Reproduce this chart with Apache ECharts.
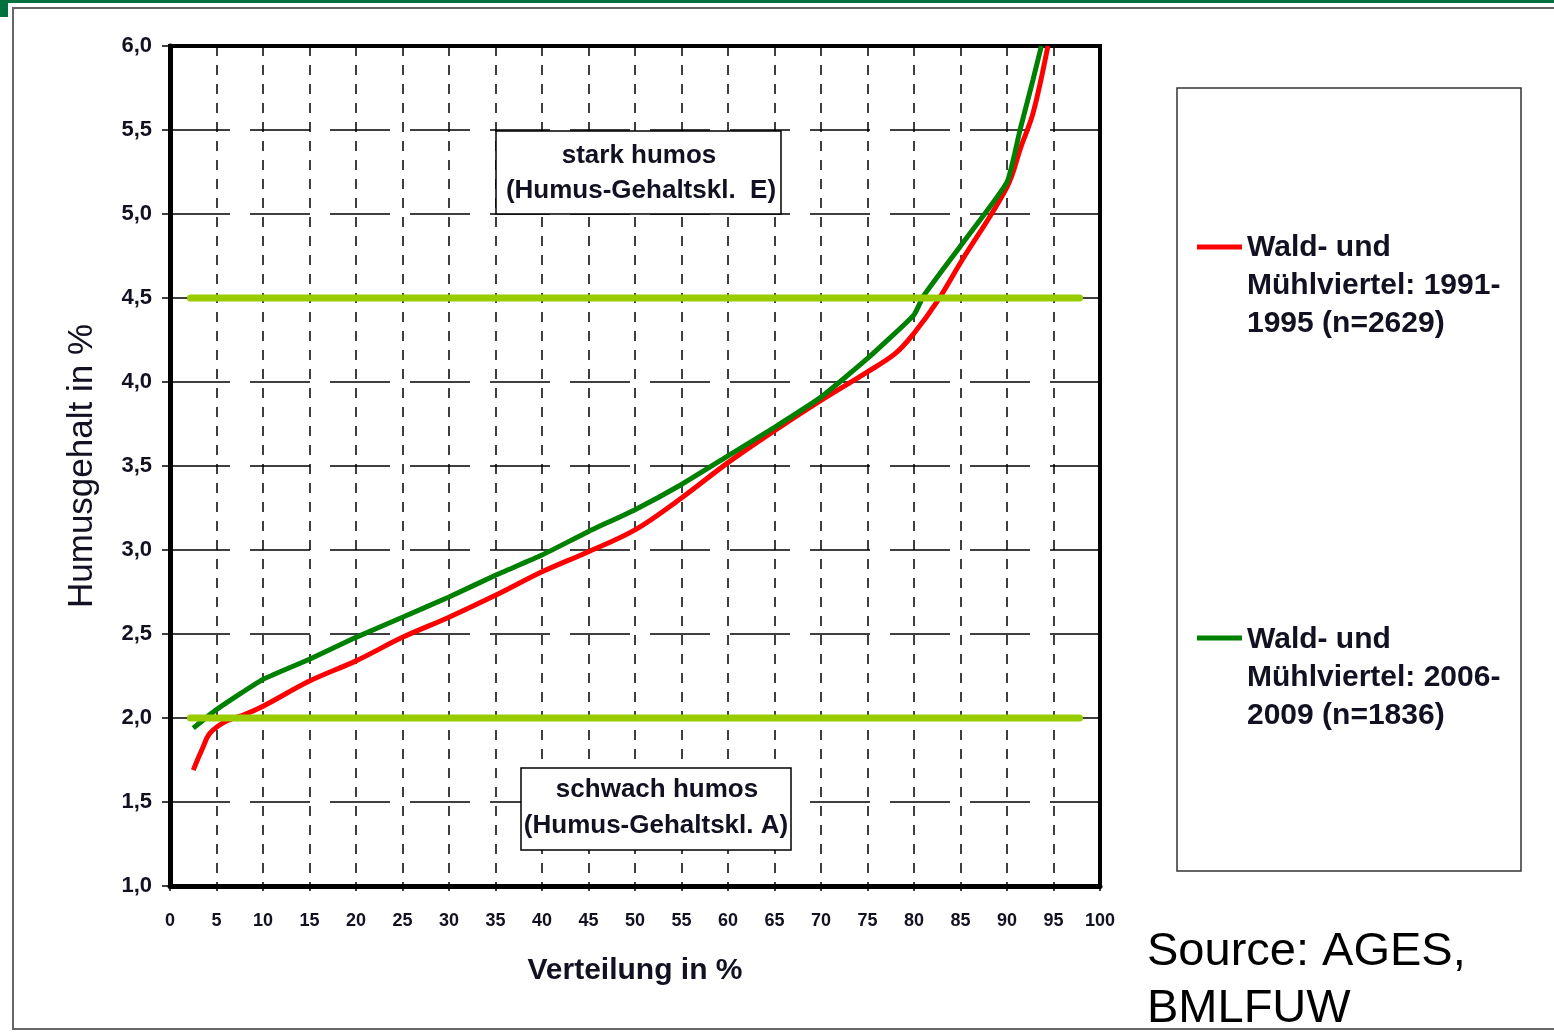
<!DOCTYPE html>
<html><head><meta charset="utf-8">
<script src="https://cdn.jsdelivr.net/npm/echarts@6/dist/echarts.min.js"></script>
<style>html,body{margin:0;padding:0;background:#fff}#c{width:1554px;height:1032px}</style>
</head><body><div id="c"></div>
<script>
const redX   = [2.5, 3.5, 4.3, 6, 8, 10, 15, 20, 25, 30, 35, 40, 45, 50, 55, 60, 65, 70, 75, 78, 80, 82.5, 85, 90, 91.5, 92.8, 94.4];
const redY   = [1.69, 1.82, 1.91, 1.98, 2.02, 2.07, 2.22, 2.34, 2.48, 2.60, 2.73, 2.87, 2.99, 3.12, 3.31, 3.52, 3.71, 3.89, 4.06, 4.17, 4.29, 4.48, 4.71, 5.16, 5.40, 5.60, 6.0];
const greenX = [2.5, 5, 10, 15, 20, 25, 30, 35, 40, 45, 50, 55, 60, 65, 70, 75, 80, 81, 85, 90, 91.4, 92.8, 93.7];
const greenY = [1.94, 2.05, 2.23, 2.35, 2.48, 2.60, 2.72, 2.85, 2.97, 3.11, 3.24, 3.39, 3.56, 3.73, 3.91, 4.14, 4.40, 4.51, 4.81, 5.19, 5.50, 5.80, 6.0];
const thresholdLevels = [2.0, 4.5];
const thresholdRange = [2.2, 97.8];
const seriesNames = ['Wald- und Mühlviertel: 1991-1995 (n=2629)', 'Wald- und Mühlviertel: 2006-2009 (n=1836)'];
const legendLines = [['Wald- und', 'Mühlviertel: 1991-', '1995 (n=2629)'], ['Wald- und', 'Mühlviertel: 2006-', '2009 (n=1836)']];
const boxTop = ['stark humos', '(Humus-Gehaltskl.  E)'];
const boxBottom = ['schwach humos', '(Humus-Gehaltskl. A)'];
const xTitle = 'Verteilung in %';
const yTitle = 'Humusgehalt in %';
const sourceText = ['Source: AGES,', 'BMLFUW'];

const zip = (xs, ys) => xs.map((x, i) => [x, ys[i]]);
const chart = echarts.init(document.getElementById('c'));
const FONT = '"Liberation Sans", Arial, sans-serif';
const txtColor = '#111122';

const series = [
  { name: seriesNames[0], type: 'line', data: zip(redX, redY), smooth: 0.35, showSymbol: false, lineStyle: { color: '#ff0000', width: 5 }, itemStyle: { color: '#ff0000' }, z: 3 },
  { name: seriesNames[1], type: 'line', data: zip(greenX, greenY), smooth: 0.15, showSymbol: false, lineStyle: { color: '#008000', width: 5 }, itemStyle: { color: '#008000' }, z: 4 }
];
thresholdLevels.forEach((lv, i) => {
  series.push({ name: 'threshold' + i, type: 'line', data: [[thresholdRange[0], lv], [thresholdRange[1], lv]], showSymbol: false, lineStyle: { color: '#99cc00', width: 7, cap: 'round' }, z: 5, silent: true });
});

const graphic = [
  { type: 'rect', shape: { x: 0, y: 0, width: 1554, height: 3 }, style: { fill: '#00703c' }, z: 10 },
  { type: 'rect', shape: { x: 0, y: 0, width: 8, height: 17 }, style: { fill: '#00703c' }, z: 10 },
  { type: 'rect', shape: { x: 13, y: 8, width: 1560, height: 1021 }, style: { fill: 'none', stroke: '#666', lineWidth: 2 }, z: 10 },
  // annotation boxes
  { type: 'rect', shape: { x: 496, y: 131, width: 285, height: 83 }, style: { fill: '#fff', stroke: '#000', lineWidth: 1.5 }, z: 20 },
  { type: 'text', x: 639, y: 156, style: { text: boxTop[0], font: 'bold 26px ' + FONT, fill: txtColor, align: 'center', verticalAlign: 'middle' }, z: 21 },
  { type: 'text', x: 641, y: 191, style: { text: boxTop[1], font: 'bold 26px ' + FONT, fill: txtColor, align: 'center', verticalAlign: 'middle' }, z: 21 },
  { type: 'rect', shape: { x: 521, y: 768, width: 270, height: 82 }, style: { fill: '#fff', stroke: '#000', lineWidth: 1.5 }, z: 20 },
  { type: 'text', x: 657, y: 790, style: { text: boxBottom[0], font: 'bold 26px ' + FONT, fill: txtColor, align: 'center', verticalAlign: 'middle' }, z: 21 },
  { type: 'text', x: 656, y: 826, style: { text: boxBottom[1], font: 'bold 26px ' + FONT, fill: txtColor, align: 'center', verticalAlign: 'middle' }, z: 21 },
  // legend box
  { type: 'rect', shape: { x: 1177, y: 88, width: 344, height: 783 }, style: { fill: 'none', stroke: '#333', lineWidth: 1.5 }, z: 10 },
  { type: 'line', shape: { x1: 1197, y1: 247, x2: 1242, y2: 247 }, style: { stroke: '#ff0000', lineWidth: 5 }, z: 11 },
  { type: 'line', shape: { x1: 1197, y1: 638, x2: 1242, y2: 638 }, style: { stroke: '#008000', lineWidth: 5 }, z: 11 },
  { type: 'text', left: 1247, top: 229, style: { text: legendLines[0].join('\n'), font: 'bold 30px ' + FONT, lineHeight: 38, fill: txtColor }, z: 11 },
  { type: 'text', left: 1247, top: 621, style: { text: legendLines[1].join('\n'), font: 'bold 30px ' + FONT, lineHeight: 38, fill: txtColor }, z: 11 },
  { type: 'text', left: 1147, top: 924, style: { text: sourceText.join('\n'), font: '47px ' + FONT, lineHeight: 57, fill: '#000' }, z: 11 }
];

chart.setOption({
  animation: false,
  backgroundColor: '#fff',
  grid: { left: 170, top: 46, right: 454, bottom: 146, show: true, borderColor: '#000', borderWidth: 4, backgroundColor: 'transparent' },
  xAxis: {
    type: 'value', min: 0, max: 100, interval: 5,
    name: xTitle, nameLocation: 'middle', nameGap: 70,
    nameTextStyle: { fontFamily: FONT, fontSize: 30, fontWeight: 'bold', color: txtColor },
    axisLine: { show: true, lineStyle: { color: '#000', width: 5 } },
    axisTick: { show: true, length: 5, lineStyle: { color: '#000', width: 1.5 } },
    axisLabel: { fontFamily: FONT, fontSize: 18, fontWeight: 'bold', color: txtColor, margin: 26 },
    splitLine: { show: true, lineStyle: { color: '#000', width: 1.5, type: [10, 9] } }
  },
  yAxis: {
    type: 'value', min: 1, max: 6, interval: 0.5,
    name: yTitle, nameLocation: 'middle', nameGap: 70,
    nameTextStyle: { fontFamily: FONT, fontSize: 35, color: txtColor },
    axisLine: { show: true, lineStyle: { color: '#000', width: 5 } },
    axisTick: { show: true, length: 8, lineStyle: { color: '#000', width: 1.5 } },
    axisLabel: { fontFamily: FONT, fontSize: 22, fontWeight: 'bold', color: txtColor, margin: 18, formatter: v => v.toFixed(1).replace('.', ',') },
    splitLine: { show: true, lineStyle: { color: '#000', width: 1.5, type: [60, 20] } }
  },
  series: series,
  graphic: graphic
});
</script></body></html>
